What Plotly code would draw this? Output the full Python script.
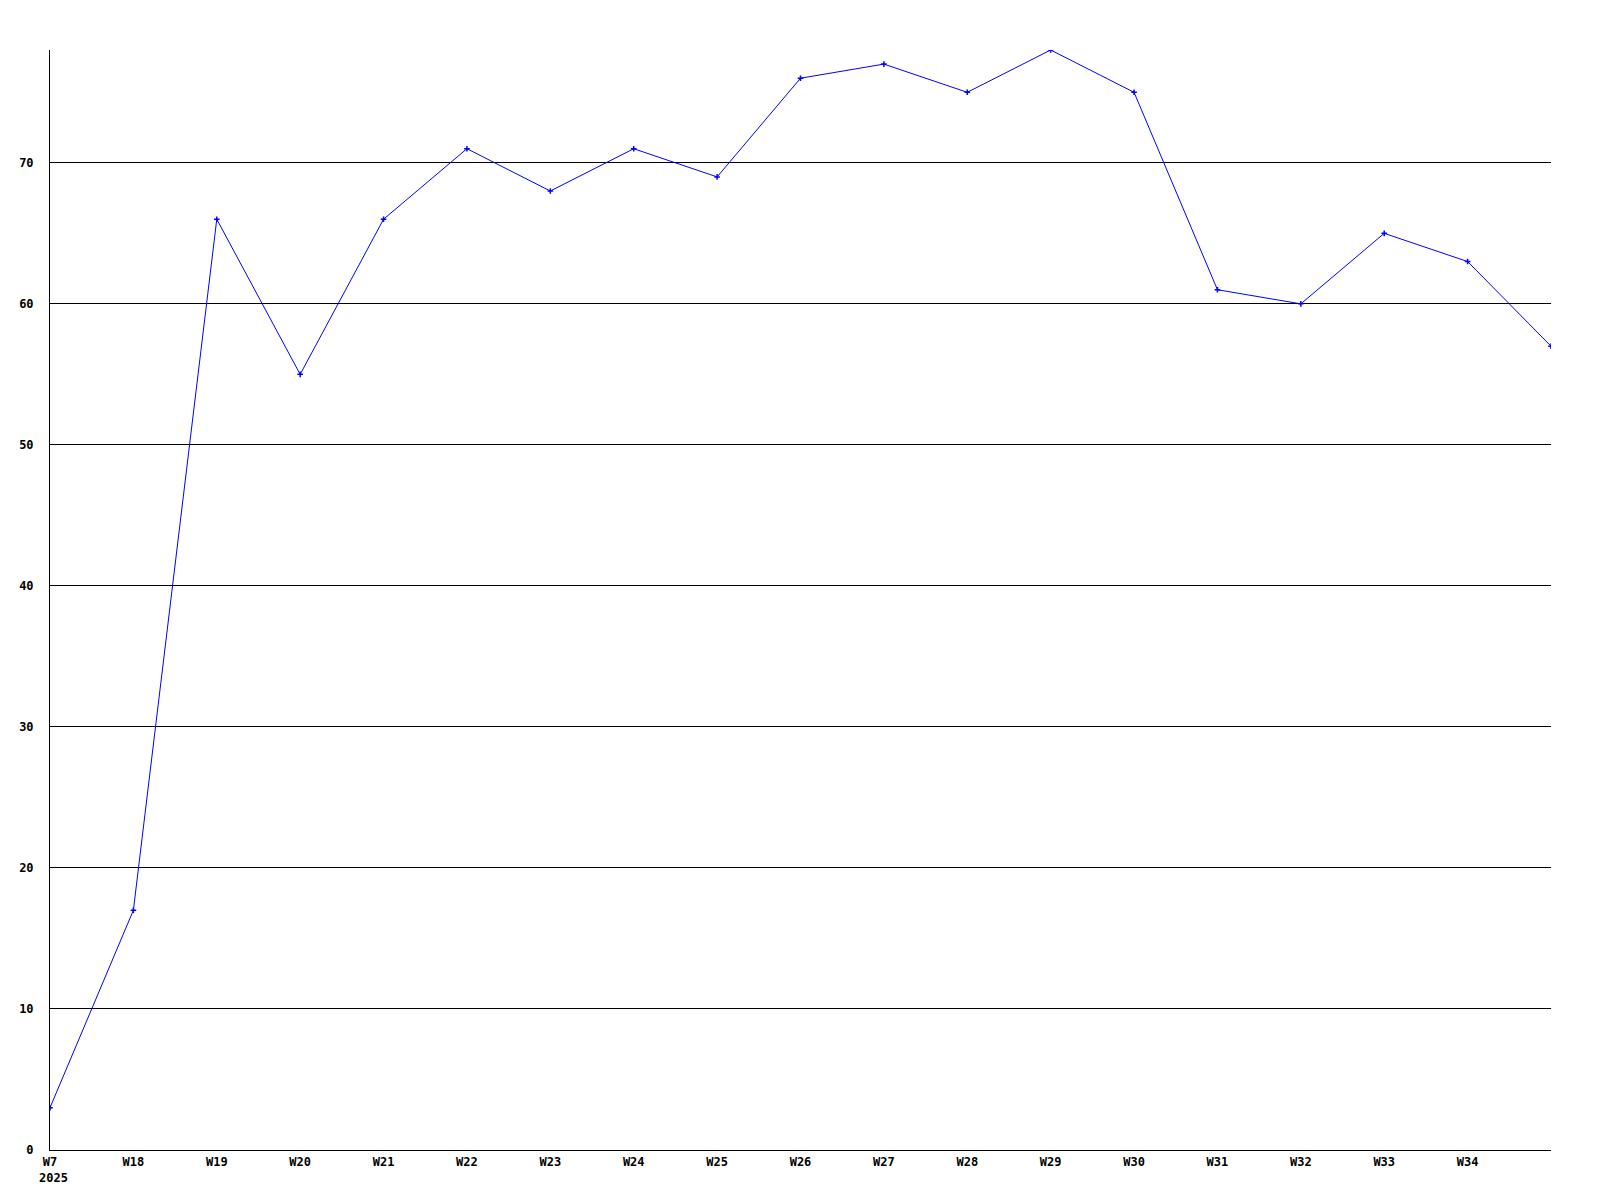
import plotly.graph_objects as go

weeks = ["W7", "W18", "W19", "W20", "W21", "W22", "W23", "W24", "W25", "W26",
         "W27", "W28", "W29", "W30", "W31", "W32", "W33", "W34", "W35"]
values = [3, 17, 66, 55, 66, 71, 68, 71, 69, 76, 77, 75, 78, 75, 61, 60, 65, 63, 57]
tick_labels = weeks[:-1]
y_ticks = [0, 10, 20, 30, 40, 50, 60, 70]
year_label = "2025"

font = dict(family="DejaVu Sans Mono", size=12, color="black", weight="bold")

fig = go.Figure(go.Scatter(
    x=weeks, y=values, mode="lines+markers",
    line=dict(color="#0000ff", width=1),
    marker=dict(symbol="cross-thin", size=4, color="#0000ff",
                line=dict(color="#0000ff", width=1.5)),
))

fig.update_layout(
    width=1600, height=1200,
    margin=dict(l=42, r=57, t=42, b=58),
    paper_bgcolor="white", plot_bgcolor="white",
    showlegend=False,
    font=font,
    xaxis=dict(
        type="category", categoryorder="array", categoryarray=weeks,
        range=[0, len(weeks) - 1],
        tickvals=tick_labels, ticktext=tick_labels,
        showgrid=False, showline=True, linecolor="black", linewidth=1,
        ticks="", ticklabelstandoff=1, tickfont=font, zeroline=False,
        automargin=False,
    ),
    yaxis=dict(
        range=[0, max(values)],
        tickvals=y_ticks,
        showgrid=True, gridcolor="black", gridwidth=1,
        showline=True, linecolor="black", linewidth=1,
        ticks="", ticklabelstandoff=13, tickfont=font, zeroline=False,
        automargin=False,
    ),
    annotations=[dict(
        text=year_label, xref="paper", yref="paper", x=0, y=0,
        xanchor="left", yanchor="top", xshift=-13, yshift=-19,
        showarrow=False, font=font,
    )],
)

fig.write_html("out.html")
